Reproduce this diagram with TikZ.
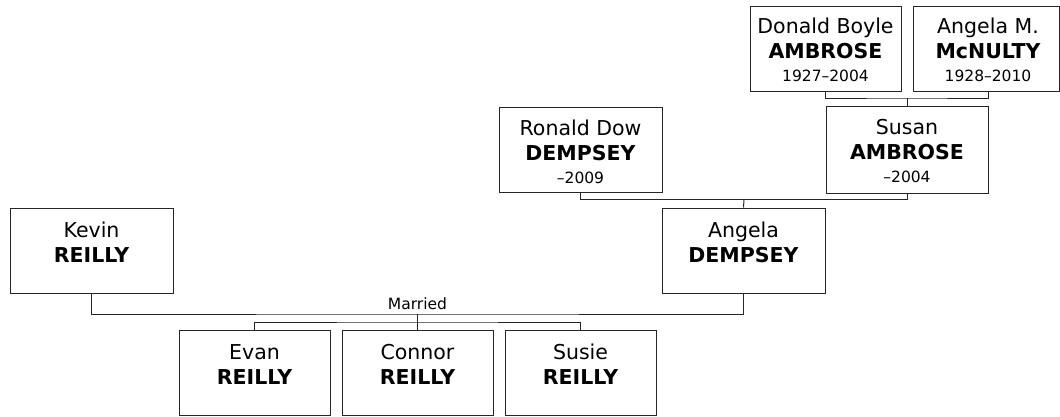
\documentclass[tikz,border=0pt]{standalone}
\usepackage{fontspec}
\setmainfont{DejaVu Sans}
\tikzset{
  fbox/.style={draw=black!85, line width=1pt, inner sep=0pt, fill=white},
  nm/.style={anchor=base, inner sep=0pt, font=\fontsize{20.5}{24}\selectfont},
  sn/.style={anchor=base, inner sep=0pt, font=\fontsize{20.5}{24}\selectfont\bfseries},
  yr/.style={anchor=base, inner sep=0pt, font=\fontsize{15.5}{18}\selectfont},
  lnk/.style={draw=black!85, line width=1pt},
}
\newcommand\famb[5]{%
  \node[fbox, minimum width={(#4)-(#2)}, minimum height={(#5)-(#3)}] (#1) at ({((#2)+(#4))/2},{((#3)+(#5))/2}) {};}
\begin{document}
\begin{tikzpicture}[x=1pt,y=-1pt]
\useasboundingbox (0,0) rectangle (1060,416);
% boxes
\famb{donald}{750}{6}{901}{91}
\famb{angelam}{913}{6}{1059}{91}
\famb{susan}{826}{106}{988}{193}
\famb{ronald}{499}{107}{662}{192}
\famb{angela}{662}{208}{825}{293}
\famb{kevin}{10}{208}{173}{293}
\famb{evan}{179}{330}{330}{415}
\famb{connor}{342}{330}{493}{415}
\famb{susie}{505}{330}{656}{415}
% texts
\node[nm] (donald-1) at ([yshift=-28pt]donald.north) {Donald Boyle};
\node[sn] (donald-2) at ([yshift=-53pt]donald.north) {AMBROSE};
\node[yr] (donald-3) at ([yshift=-76pt]donald.north) {1927–2004};
\node[nm] (angelam-1) at ([yshift=-28pt]angelam.north -| 988,0) {Angela M.};
\node[sn] (angelam-2) at ([yshift=-53pt]angelam.north -| 988,0) {McNULTY};
\node[yr] (angelam-3) at ([yshift=-76pt]angelam.north -| 988,0) {1928–2010};
\node[nm] (susan-1) at ([yshift=-29pt]susan.north) {Susan};
\node[sn] (susan-2) at ([yshift=-54pt]susan.north) {AMBROSE};
\node[yr] (susan-3) at ([yshift=-77pt]susan.north) {–2004};
\node[nm] (ronald-1) at ([yshift=-29pt]ronald.north) {Ronald Dow};
\node[sn] (ronald-2) at ([yshift=-54pt]ronald.north) {DEMPSEY};
\node[yr] (ronald-3) at ([yshift=-77pt]ronald.north) {–2009};
\node[nm] (angela-1) at ([yshift=-30pt]angela.north) {Angela};
\node[sn] (angela-2) at ([yshift=-55pt]angela.north) {DEMPSEY};
\node[nm] (kevin-1) at ([yshift=-30pt]kevin.north) {Kevin};
\node[sn] (kevin-2) at ([yshift=-55pt]kevin.north) {REILLY};
\node[nm] (evan-1) at ([yshift=-30pt]evan.north) {Evan};
\node[sn] (evan-2) at ([yshift=-55pt]evan.north) {REILLY};
\node[nm] (connor-1) at ([yshift=-30pt]connor.north) {Connor};
\node[sn] (connor-2) at ([yshift=-55pt]connor.north) {REILLY};
\node[nm] (susie-1) at ([yshift=-30pt]susie.north) {Susie};
\node[sn] (susie-2) at ([yshift=-55pt]susie.north) {REILLY};
% junctions
\coordinate (j1) at (907,98);
\coordinate (j2) at (744,199.5);
\coordinate (j3) at (417.5,314);
\coordinate (j4) at (417.5,322);
\coordinate (am) at (988,91);
\node[yr] (married) at (417.5,309) {Married};
% connectors
\draw[lnk] (donald.south) |- (j1) -| (am);
\draw[lnk] (j1) -- (susan.north);
\draw[lnk] (ronald.south) |- (j2) -| (susan.south);
\draw[lnk] (j2) -- (angela.north);
\draw[lnk] (kevin.south) |- (j3) -| (angela.south);
\draw[lnk] (j3) -- (connor.north);
\draw[lnk] (evan.north) |- (j4) -| (susie.north);
\end{tikzpicture}
\end{document}
